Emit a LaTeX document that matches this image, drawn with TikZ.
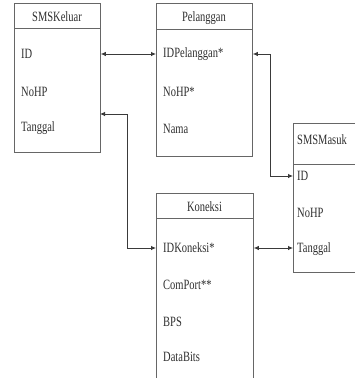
\documentclass[tikz,border=0pt]{standalone}
\usepackage{fontspec}
\setmainfont{Liberation Serif}
\usepackage{tikz}
\usetikzlibrary{arrows.meta,positioning,calc}
\usepackage{xcolor}
\definecolor{boxline}{HTML}{666666}
\definecolor{linkline}{HTML}{3A3A3A}
\definecolor{txt}{HTML}{2E2E2E}

\tikzset{
  tbl/.style={draw=boxline, line width=0.8pt, rectangle, anchor=north west, inner sep=0pt},
  field/.style={anchor=west, inner sep=0pt, text=txt, yscale=1.35, font=\fontsize{10.5}{12}\selectfont},
  title/.style={anchor=center, inner sep=0pt, text=txt, yscale=1.35, font=\fontsize{10.5}{12}\selectfont},
  link/.style={draw=linkline, line width=0.8pt, {Latex[length=5pt,width=4.5pt]}-{Latex[length=5pt,width=4.5pt]}},
}

\begin{document}
\begin{tikzpicture}[x=1pt, y=-1pt]
  \useasboundingbox (0,0) rectangle (355,378);
  \clip (0,0) rectangle (355,378);

  % SMSKeluar table
  \node[tbl, minimum width=86pt, minimum height=149pt] (kelbox) at (14,3) {};
  \draw[boxline, line width=0.8pt] (kelbox.west |- 0,28) -- (kelbox.east |- 0,28);
  \node[title] (kelhead) at (57,17) {SMSKeluar};
  \foreach \name/\txt/\y in {ID/ID/54, HP/NoHP/92, Tgl/Tanggal/128} {
    \node[field] (kel\name) at (21,\y) {\txt};
  }
  \coordinate (kelout) at (100,114);

  % Pelanggan table
  \node[tbl, minimum width=96pt, minimum height=153pt] (pelbox) at (156,3) {};
  \draw[boxline, line width=0.8pt] (pelbox.west |- 0,29) -- (pelbox.east |- 0,29);
  \node[title] (pelhead) at (204,18) {Pelanggan};
  \foreach \name/\txt/\y in {ID/IDPelanggan*/54, HP/NoHP*/92, Nama/Nama/129} {
    \node[field] (pel\name) at (163,\y) {\txt};
  }

  % Koneksi table
  \node[tbl, minimum width=97pt, minimum height=200pt] (konbox) at (156,193) {};
  \draw[boxline, line width=0.8pt] (konbox.west |- 0,218) -- (konbox.east |- 0,218);
  \node[title] (konhead) at (204.5,207) {Koneksi};
  \foreach \name/\txt/\y in {ID/IDKoneksi*/248, Port/ComPort**/285, BPS/BPS/322, Bits/DataBits/357} {
    \node[field] (kon\name) at (163,\y) {\txt};
  }

  % SMSMasuk table (cut off at the right)
  \node[tbl, minimum width=80pt, minimum height=149pt] (masbox) at (293,123) {};
  \draw[boxline, line width=0.8pt] (masbox.west |- 0,164) -- (masbox.east |- 0,164);
  \node[field] (mashead) at (297,140) {SMSMasuk};
  \foreach \name/\txt/\y in {ID/ID/176, HP/NoHP/213, Tgl/Tanggal/249} {
    \node[field] (mas\name) at (297,\y) {\txt};
  }

  % Relations
  \draw[link] (kelbox.east |- kelID) -- (pelbox.west |- pelID);
  \draw[link] (pelbox.east |- pelID) -- ++(18,0) |- (masbox.west |- masID);
  \draw[link] (kelout) -- ++(27,0) |- (konbox.west |- konID);
  \draw[link] (konbox.east |- konID) -- (masbox.west |- konID);
\end{tikzpicture}
\end{document}
